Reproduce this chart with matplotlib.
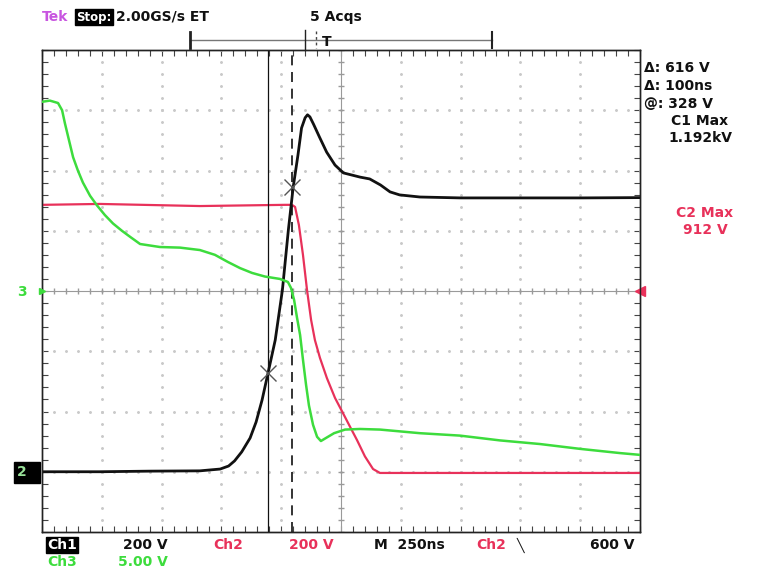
import numpy as np
import matplotlib
matplotlib.use("Agg")
import matplotlib.pyplot as plt
from matplotlib.lines import Line2D
from matplotlib.patches import Rectangle

# Captura de osciloscopio: Ch1 (negro), Ch2 (rojo), Ch3 (verde)
# tiempo en ns desde el borde izquierdo de la pantalla (250 ns/div)
t_ch1 = [0, 240, 450, 660, 745, 780, 805, 835, 870, 895, 920, 945, 975, 1005,
         1030, 1050, 1070, 1085, 1100, 1110, 1120, 1135, 1160, 1190, 1225, 1260,
         1295, 1330, 1370, 1415, 1455, 1495, 1580, 1750, 2000, 2250, 2500]
v_ch1 = [0, 0, 2, 3, 9, 19, 36, 66, 112, 165, 238, 328, 437, 603,
         803, 944, 1051, 1141, 1175, 1185, 1178, 1154, 1111, 1061, 1018, 992,
         985, 978, 972, 952, 929, 919, 912, 909, 909, 909, 910]

t_ch2 = [0, 242, 660, 1016, 1045, 1058, 1074, 1091, 1108, 1125, 1141, 1162,
         1191, 1225, 1258, 1288, 1317, 1350, 1384, 1413, 1706, 2124, 2500]
v_ch2 = [886, 889, 882, 886, 886, 879, 819, 720, 603, 504, 437, 378,
         311, 245, 195, 149, 105, 51, 9, -4, -4, -4, -4]

t_ch3 = [0, 33, 67, 84, 96, 113, 130, 150, 171, 201, 230, 263, 297, 334, 368,
         410, 493, 577, 660, 723, 778, 828, 878, 932, 995, 1028, 1041, 1054,
         1066, 1079, 1091, 1104, 1116, 1133, 1150, 1166, 1187, 1221, 1267, 1329,
         1413, 1580, 1747, 1915, 2082, 2249, 2416, 2500]
v_ch3 = [15.7, 15.8, 15.6, 15.0, 13.9, 12.5, 11.1, 10.0, 9.0, 7.9, 7.1, 6.3,
         5.6, 5.0, 4.5, 3.9, 3.65, 3.6, 3.4, 3.0, 2.4, 1.9, 1.5, 1.2, 1.0, 0.75,
         0.25, -0.75, -2.2, -3.65, -5.7, -7.8, -9.5, -11.1, -12.1, -12.45, -12.2,
         -11.8, -11.5, -11.45, -11.5, -11.8, -12.0, -12.4, -12.7, -13.1, -13.45,
         -13.6]

# cursores
cursor_t = [945, 1045]
cursor_v = [328, 944]
trig_level = 600

NEGRO = "#111111"
ROJO = "#e8315a"
VERDE = "#3ddc3d"
MAGENTA = "#c855e0"

W, H = 760, 569
fig = plt.figure(figsize=(W / 100, H / 100), dpi=100)
ax = fig.add_axes([42 / W, 37 / H, 598 / W, 482 / H])
ax3 = ax.twinx()

ax.set_xlim(0, 2500)
ax.set_ylim(-200, 1400)   # Ch1 / Ch2: 200 V/div, tierra en -3 div
ax3.set_ylim(-20, 20)     # Ch3: 5 V/div, tierra en el centro

# reticula
grid_c = "#c9c9c9"
for xv in np.arange(250, 2500, 250):
    if xv == 1250:
        continue
    yy = np.arange(-200, 1401, 40)
    ax.plot([xv] * len(yy), yy, ls="none", marker="o", ms=1.1, color=grid_c)
for yv in np.arange(0, 1400, 200):
    if yv == 600:
        continue
    xx = np.arange(0, 2501, 50)
    ax.plot(xx, [yv] * len(xx), ls="none", marker="o", ms=1.1, color=grid_c)
# cruz central
ax.axhline(600, color="#9a9a9a", lw=0.8)
ax.axvline(1250, color="#9a9a9a", lw=0.8)
xx = np.arange(0, 2501, 50)
ax.plot(xx, [600] * len(xx), ls="none", marker="|", ms=5, color="#9a9a9a")
yy = np.arange(-200, 1401, 40)
ax.plot([1250] * len(yy), yy, ls="none", marker="_", ms=5, color="#9a9a9a")

ax.set_xticks(np.arange(0, 2501, 250))
ax.set_xticks(np.arange(0, 2501, 50), minor=True)
ax.set_yticks(np.arange(-200, 1401, 200))
ax.set_yticks(np.arange(-200, 1401, 40), minor=True)
ax.tick_params(which="both", direction="in", length=4, width=0.8,
               top=True, right=True, labelleft=False, labelbottom=False,
               color="#444444")
ax3.set_yticks([])
for a in (ax, ax3):
    for s in a.spines.values():
        s.set_color("#222222")
        s.set_linewidth(1.0)

# trazas
ax.plot(t_ch2, v_ch2, color=ROJO, lw=1.6, zorder=3)
ax3.plot(t_ch3, v_ch3, color=VERDE, lw=1.8, zorder=3)
ax.plot(t_ch1, v_ch1, color=NEGRO, lw=2.0, zorder=4)

# cursores
ax.axvline(cursor_t[0], color=NEGRO, lw=0.9, zorder=5)
ax.axvline(cursor_t[1], color=NEGRO, lw=1.2, ls=(0, (6, 4)), zorder=5)
ax.plot(cursor_t, cursor_v, ls="none", marker="x", ms=11, mew=1.0,
        color="#555555", zorder=6)

# nivel de disparo (flecha roja a la derecha)
ax.plot([2500], [trig_level], marker="<", ms=7, color=ROJO, clip_on=False,
        zorder=6)


def px(x, y):
    return x / W, 1 - y / H


fkw = dict(fontsize=10, fontweight="bold", va="center", family="DejaVu Sans")

# cabecera
fig.text(*px(42, 17), "Tek", color=MAGENTA, ha="left", **fkw)
fig.text(*px(76, 17), "Stop:", color="white", ha="left", fontsize=8.5,
         fontweight="bold", va="center",
         bbox=dict(boxstyle="square,pad=0.12", fc="black", ec="black"))
fig.text(*px(116, 17), "2.00GS/s ET", color=NEGRO, ha="left", **fkw)
fig.text(*px(310, 17), "5 Acqs", color=NEGRO, ha="left", **fkw)

# barra de posicion del disparo
bar_y = 1 - 40 / H
fig.add_artist(Line2D([190 / W, 492 / W], [bar_y, bar_y], color="#777777", lw=1.0))
fig.add_artist(Line2D([190 / W, 190 / W], [1 - 32 / H, 1 - 48 / H], color="#222222", lw=2.0))
fig.add_artist(Line2D([492 / W, 492 / W], [1 - 32 / H, 1 - 48 / H], color="#222222", lw=1.5))
fig.add_artist(Line2D([305 / W, 305 / W], [1 - 30 / H, 1 - 50 / H], color="#222222", lw=1.0))
fig.add_artist(Line2D([316 / W, 316 / W], [1 - 31 / H, 1 - 48 / H], color="#444444", lw=1.0,
                      ls=(0, (2, 2))))
fig.text(*px(327, 42), "T", color=NEGRO, ha="center", **fkw)

# lecturas a la derecha
fig.text(*px(644, 68), "\u0394: 616 V", color=NEGRO, ha="left", **fkw)
fig.text(*px(644, 86), "\u0394: 100ns", color=NEGRO, ha="left", **fkw)
fig.text(*px(644, 104), "@: 328 V", color=NEGRO, ha="left", **fkw)
fig.text(*px(700, 121), "C1 Max", color=NEGRO, ha="center", **fkw)
fig.text(*px(700, 138), "1.192kV", color=NEGRO, ha="center", **fkw)
fig.text(*px(705, 213), "C2 Max", color=ROJO, ha="center", **fkw)
fig.text(*px(705, 230), "912 V", color=ROJO, ha="center", **fkw)

# marcadores de canal a la izquierda
fig.text(*px(22, 292), "3", color=VERDE, ha="center", **fkw)
ax3.plot([0], [0], marker=">", ms=5, color=VERDE, clip_on=False,
         transform=ax3.transData, zorder=6)
fig.add_artist(Rectangle((14 / W, 1 - 483 / H), 26 / W, 21 / H,
                         transform=fig.transFigure, fc="black", ec="black"))
fig.text(*px(22, 472), "2", color="#9ae29a", ha="center", **fkw)

# pie
fig.text(*px(47, 545), "Ch1", color="white", ha="left",
         bbox=dict(boxstyle="square,pad=0.1", fc="black", ec="black"), **fkw)
fig.text(*px(168, 545), "200 V", color=NEGRO, ha="right", **fkw)
fig.text(*px(213, 545), "Ch2", color=ROJO, ha="left", **fkw)
fig.text(*px(334, 545), "200 V", color=ROJO, ha="right", **fkw)
fig.text(*px(374, 545), "M  250ns", color=NEGRO, ha="left", **fkw)
fig.text(*px(476, 545), "Ch2", color=ROJO, ha="left", **fkw)
fig.text(*px(520, 545), "\u2572", color=NEGRO, ha="center", fontsize=9,
         va="center")
fig.text(*px(635, 545), "600 V", color=NEGRO, ha="right", **fkw)
fig.text(*px(47, 562), "Ch3", color=VERDE, ha="left", **fkw)
fig.text(*px(168, 562), "5.00 V", color=VERDE, ha="right", **fkw)

fig.savefig("out.png", dpi=100, facecolor="white")
